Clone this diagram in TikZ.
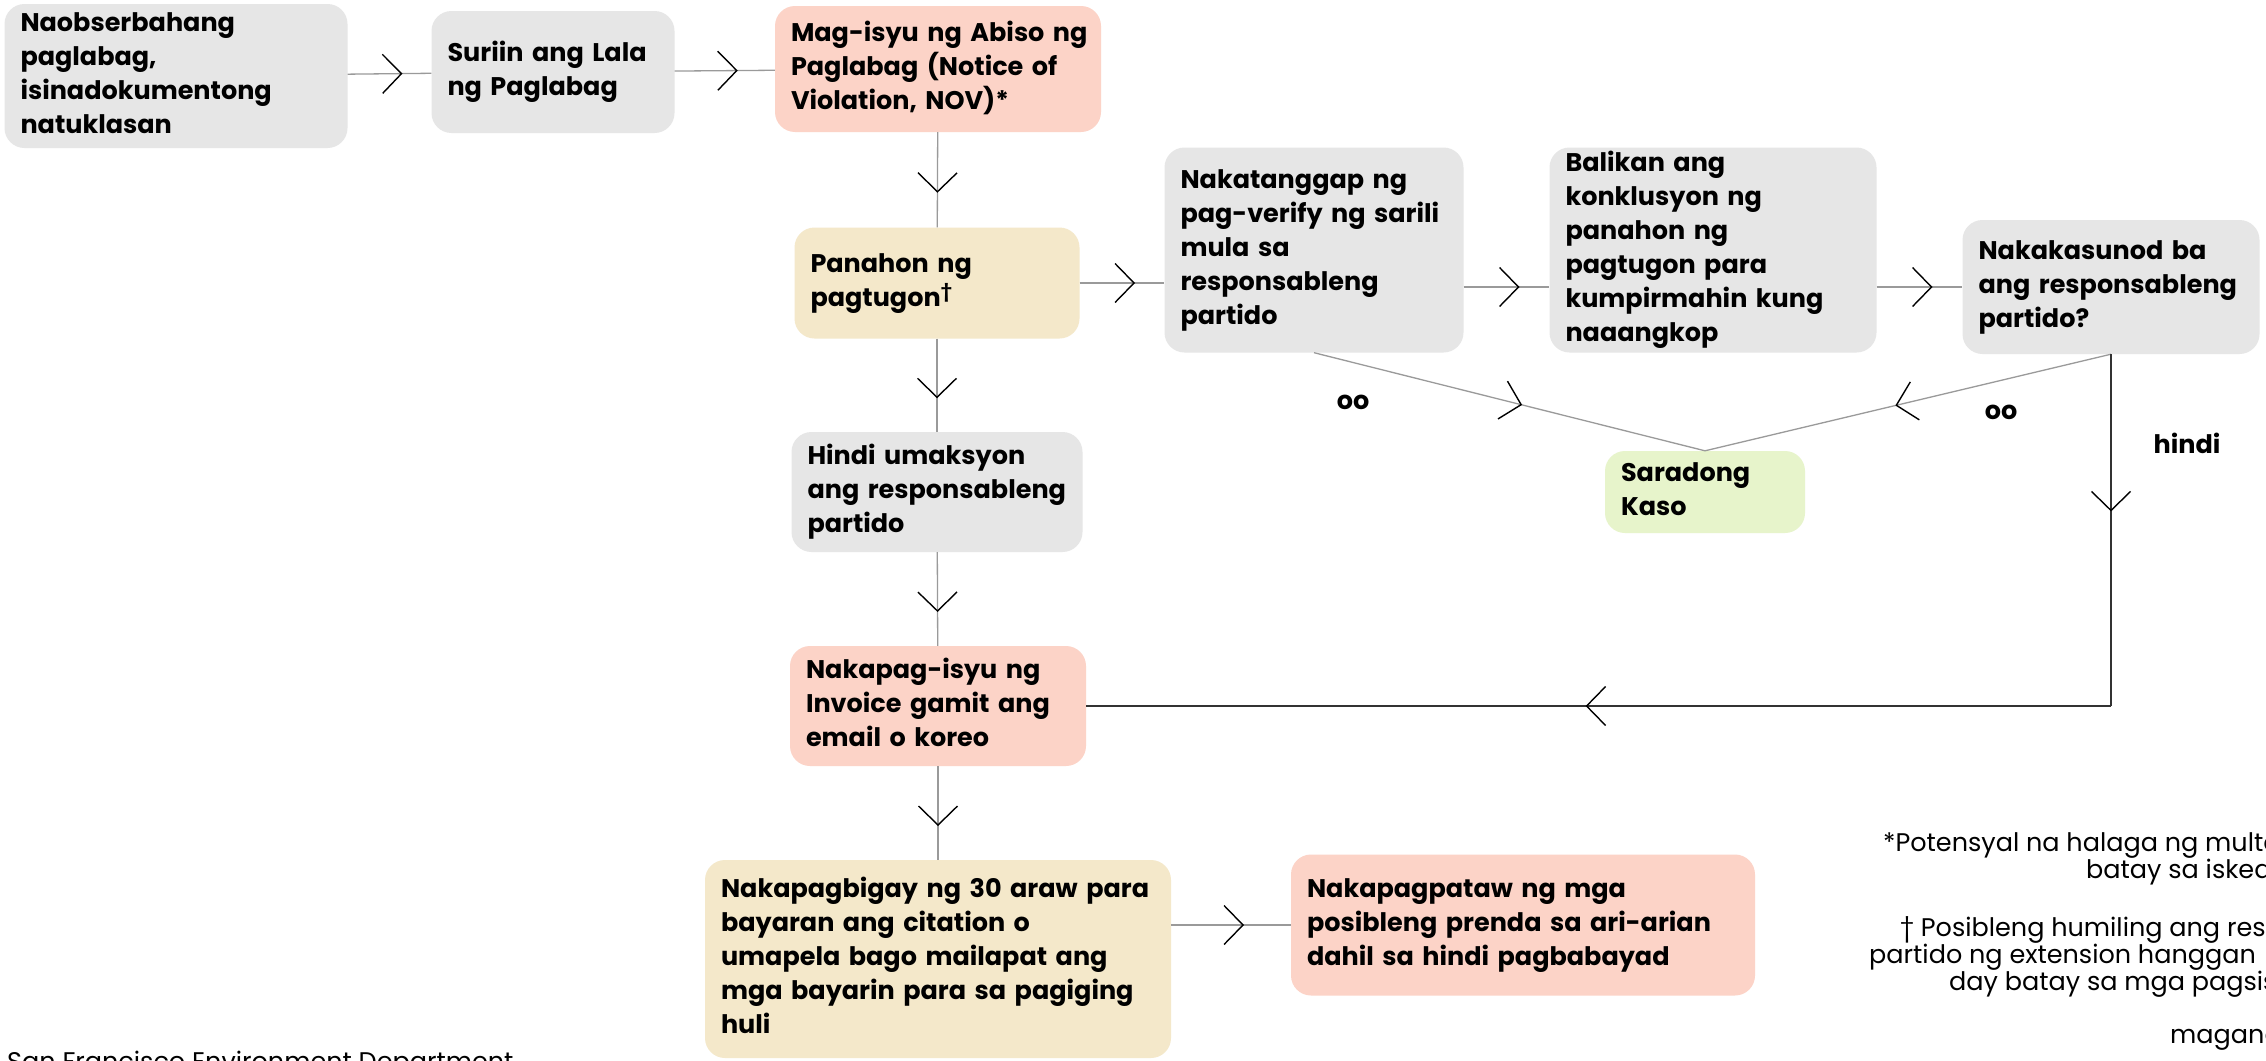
\documentclass[tikz,border=0pt]{standalone}
\usepackage{fontspec}
\setmainfont{Poppins}
\usetikzlibrary{arrows.meta,decorations.markings}
\definecolor{boxgrey}{HTML}{E6E6E6}
\definecolor{boxpink}{HTML}{FCD3C7}
\definecolor{boxsand}{HTML}{F4E8CA}
\definecolor{boxlime}{HTML}{E7F4CB}
\definecolor{wire}{HTML}{9A9A9A}
\newcommand{\boxlines}[1]{\begin{tabular}{@{}l@{}}#1\end{tabular}}
\tikzset{
	box/.style={rounded corners=20pt, inner xsep=16pt, inner ysep=0pt, align=left,
		font=\fontsize{25.5}{34}\selectfont\bfseries},
	greybox/.style={box, fill=boxgrey},
	pinkbox/.style={box, fill=boxpink},
	sandbox/.style={box, fill=boxsand},
	limebox/.style={box, fill=boxlime},
	link/.style={draw=wire, line width=1.3pt, postaction={decorate},
		decoration={markings, mark=at position #1 with
			{\arrow[xshift=13pt]{Straight Barb[length=19pt, width=39pt, line width=1.4pt, color=black]}}}},
	link/.default=0.5,
	darklink/.style={link=#1, draw=black!80, line width=2pt},
	darklink/.default=0.5,
	lbl/.style={font=\fontsize{25.5}{34}\selectfont\bfseries},
	note/.style={font=\fontsize{25.5}{27}\selectfont, anchor=base west, inner sep=0pt}
}
\begin{document}
\begin{tikzpicture}[x=1pt, y=-1pt]
	\useasboundingbox (0,0) rectangle (2266,1060);
	\fill[white] (0,0) rectangle (2266,1060);
	% top row
	\node[greybox, minimum width=343pt, minimum height=144pt, text width=311pt] (obs) at (176,76) {\boxlines{Naobserbahang\\paglabag,\\isinadokumentong\\natuklasan}};
	\node[greybox, minimum width=243pt, minimum height=122pt, text width=211pt] (sur) at (553,72) {\boxlines{Suriin ang Lala\\ng Paglabag}};
	\node[pinkbox, minimum width=326pt, minimum height=126pt, text width=294pt] (nov) at (938,69) {\boxlines{Mag-isyu ng Abiso ng\\Paglabag (Notice of\\Violation, NOV)*}};
	% response row
	\node[sandbox, minimum width=285pt, minimum height=111pt, text width=253pt] (pan) at (937,283) {\boxlines{Panahon ng\\pagtugon\textsuperscript{†}}};
	\node[greybox, minimum width=299pt, minimum height=205pt, text width=267pt] (ver) at (1314,250) {\boxlines{Nakatanggap ng\\pag-verify ng sarili\\mula sa\\responsableng\\partido}};
	\node[greybox, minimum width=327pt, minimum height=205pt, text width=295pt] (bal) at (1713,250) {\boxlines{Balikan ang\\konklusyon ng\\panahon ng\\pagtugon para\\kumpirmahin kung\\naaangkop}};
	\node[greybox, minimum width=297pt, minimum height=134pt, text width=265pt] (sun) at (2111,287) {\boxlines{Nakakasunod ba\\ang responsableng\\partido?}};
	\node[limebox, minimum width=200pt, minimum height=82pt, text width=168pt] (sar) at (1705,492) {\boxlines{Saradong\\Kaso}};
	% left column
	\node[greybox, minimum width=291pt, minimum height=120pt, text width=259pt] (hin) at (937,492) {\boxlines{Hindi umaksyon\\ang responsableng\\partido}};
	\node[pinkbox, minimum width=296pt, minimum height=120pt, text width=264pt] (inv) at (938,706) {\boxlines{Nakapag-isyu ng\\Invoice gamit ang\\email o koreo}};
	\node[sandbox, minimum width=466pt, minimum height=198pt, text width=434pt] (bgy) at (938,959) {\boxlines{Nakapagbigay ng 30 araw para\\bayaran ang citation o\\umapela bago mailapat ang\\mga bayarin para sa pagiging\\huli}};
	\node[pinkbox, minimum width=464pt, minimum height=141pt, text width=432pt] (pre) at (1523,925) {\boxlines{Nakapagpataw ng mga\\posibleng prenda sa ari-arian\\dahil sa hindi pagbabayad}};
	% connectors
	\draw[link] (obs) -- (sur);
	\draw[link] (sur) -- (nov);
	\foreach \a/\b in {nov/pan, pan/hin, hin/inv, inv/bgy}
		\draw[link] (\a) -- (\b);
	\draw[link] (pan.east) -- (pan.east -| ver.west);
	\draw[link] (ver.east |- sun) -- (bal.west |- sun);
	\draw[link] (bal.east |- sun) -- (sun.west);
	\draw[link] (ver.south) -- (sar.north);
	\draw[link] (sun.south) -- (sar.north);
	\coordinate (turn) at (sun.south |- inv.east);
	\draw[darklink=0.41] (sun.south) -- (turn);
	\draw[darklink] (turn) -- (inv.east);
	\draw[link] (bgy.east |- pre.west) -- (pre.west);
	% labels
	\node[lbl] (yes1) at (1353,402) {oo};
	\node[lbl] (yes2) at (2001,412) {oo};
	\node[lbl] (no) at (2187,443) {hindi};
	% notes
	\node[note] (fn1) at (1883,851) {*Potensyal na halaga ng multa};
	\node[note] (fn2) at (2086,878) {batay sa isked};
	\node[note] (fn3) at (1900,936) {† Posibleng humiling ang res};
	\node[note] (fn4) at (1869,963) {partido ng extension hanggan};
	\node[note] (fn5) at (1949,990) {day batay sa mga pagsis};
	\node[note] (fn6) at (2170,1043) {magand};
	\node[note] (src) at (7,1070) {San Francisco Environment Department};
\end{tikzpicture}
\end{document}
